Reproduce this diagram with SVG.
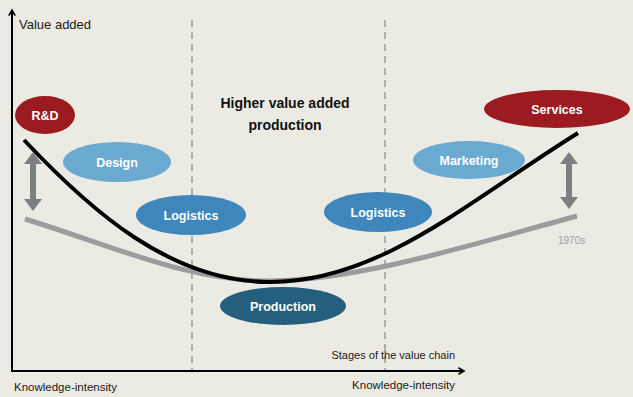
<svg xmlns="http://www.w3.org/2000/svg" width="633" height="397" viewBox="0 0 633 397">
<defs>
<style>
.lbl{font-family:"Liberation Sans","Open Sans",sans-serif;font-size:11.5px;fill:#1a1a1a}
.nt{font-family:"Liberation Sans","Open Sans",sans-serif;font-size:12.5px;font-weight:bold;fill:#ffffff;text-anchor:middle}
.dash{stroke:#9a9a9a;stroke-width:1.5;stroke-dasharray:7,5;fill:none}
.dbl{fill:#7d8083}
</style>
<marker id="ah" viewBox="0 0 10 10" refX="8" refY="5" markerWidth="8" markerHeight="8" markerUnits="userSpaceOnUse" orient="auto">
<path d="M1,1 L8,5 L1,9" fill="none" stroke="#000" stroke-width="2"/>
</marker>
</defs>
<rect width="633" height="397" fill="#ebebe3"/>
<g id="connectors">
<line class="dash" x1="192" y1="20" x2="192" y2="370"/>
<line class="dash" x1="385" y1="20" x2="385" y2="370"/>
<line x1="12" y1="371" x2="12" y2="10" stroke="#000" stroke-width="2" marker-end="url(#ah)"/>
<line x1="11" y1="371" x2="464" y2="371" stroke="#000" stroke-width="2" marker-end="url(#ah)"/>
<path d="M25,219 C 110,245 190,282 270,281 C 360,280 470,245 577,216" fill="none" stroke="#9c9c9c" stroke-width="5"/>
<path d="M24,140 C 90,210 170,282 270,282 C 380,282 470,200 578,133" fill="none" stroke="#000" stroke-width="4"/>
<path class="dbl" d="M33,152 L42,164 L36,164 L36,199 L42,199 L33,211 L24,199 L30,199 L30,164 L24,164 Z"/>
<path class="dbl" d="M569,152 L578,164 L572,164 L572,197 L578,197 L569,209 L560,197 L566,197 L566,164 L560,164 Z"/>
</g>
<g id="rd"><ellipse cx="45" cy="115" rx="30" ry="19" fill="#9b1b20"/><text class="nt" x="45" y="120">R&amp;D</text></g>
<g id="design"><ellipse cx="117" cy="162" rx="54" ry="20" fill="#6aaad0"/><text class="nt" x="117" y="167">Design</text></g>
<g id="logistics1"><ellipse cx="191" cy="215" rx="55" ry="20" fill="#3e86bb"/><text class="nt" x="191" y="220">Logistics</text></g>
<g id="production"><ellipse cx="283" cy="306" rx="63" ry="19" fill="#255f7e"/><text class="nt" x="283" y="311">Production</text></g>
<g id="logistics2"><ellipse cx="378" cy="212" rx="54" ry="20" fill="#3e86bb"/><text class="nt" x="378" y="217">Logistics</text></g>
<g id="marketing"><ellipse cx="469" cy="160" rx="56" ry="19" fill="#6aaad0"/><text class="nt" x="469" y="165">Marketing</text></g>
<g id="services"><ellipse cx="557" cy="109" rx="73" ry="19" fill="#9b1b20"/><text class="nt" x="557" y="114">Services</text></g>
<g id="labels">
<text class="lbl" x="19" y="29" style="font-size:13px">Value added</text>
<text x="285" y="108" font-family="Liberation Sans, sans-serif" font-size="14" font-weight="bold" fill="#111" text-anchor="middle">Higher value added</text>
<text x="285" y="130" font-family="Liberation Sans, sans-serif" font-size="14" font-weight="bold" fill="#111" text-anchor="middle">production</text>
<text x="558" y="244" font-family="Liberation Sans, sans-serif" font-size="10" fill="#9c9c9c">1970s</text>
<text class="lbl" x="455" y="359" text-anchor="end" style="font-size:11px">Stages of the value chain</text>
<text class="lbl" x="14" y="391">Knowledge-intensity</text>
<text class="lbl" x="455" y="389" text-anchor="end">Knowledge-intensity</text>
</g>
</svg>
